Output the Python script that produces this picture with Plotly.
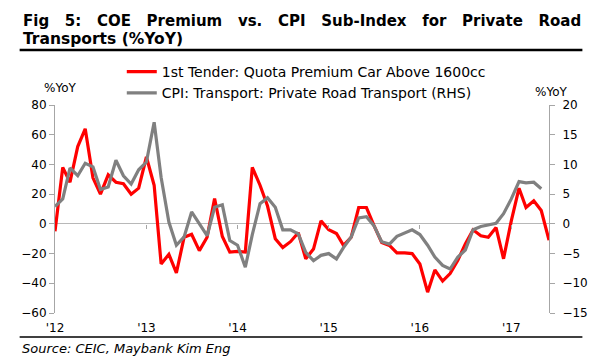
import pandas as pd
import plotly.graph_objects as go

# ---- data (monthly, Jan 2012 onwards) ----
coe_premium = [-5, 38, 28, 52, 64, 31, 20, 33, 28, 27, 20, 24,
               45, 26, -27, -20.5, -33, -9, -7, -18, -9, 17, -8.5, -19,
               -18.5, -19, 38, 26, 12, -10, -16, -12, -6, -23.5, -17, 2,
               -4, -6.5, -14.5, -9, 11, 11, -1, -12.5, -14.5, -19.5, -19.5, -20,
               -27, -46, -31, -38.5, -33.5, -24.5, -13.5, -4, -8, -9, -2.5, -23.5,
               2, 24, 11, 15.5, 9, -11]
cpi_transport = [2.9, 4.2, 9.4, 8.1, 10.2, 9.6, 5.8, 6.2, 10.7, 8.1, 6.7, 9.1,
                 10.4, 17.1, 7.8, 0.3, -3.6, -2.2, 2.0, 0.0, -2.0, 2.8, 3.2, -2.8,
                 -3.6, -7.3, -1.8, 3.4, 4.4, 2.8, -1.0, -1.0, -1.7, -4.8, -6.2, -5.3,
                 -5.0, -5.9, -4.0, -2.2, 1.0, 1.2, -0.3, -3.0, -3.4, -2.1, -1.6, -1.0,
                 -1.8, -3.6, -5.6, -7.0, -7.6, -5.6, -4.4, -1.0, -0.45, -0.2, 0.1, 1.7,
                 4.2, 7.1, 6.9, 7.0, 5.9]
dates_coe = pd.date_range("2012-01-01", periods=len(coe_premium), freq="MS")
dates_cpi = pd.date_range("2012-01-01", periods=len(cpi_transport), freq="MS")
year_ticks = ["2012-01-01", "2013-01-01", "2014-01-01", "2015-01-01", "2016-01-01", "2017-01-01"]
year_labels = ["'12", "'13", "'14", "'15", "'16", "'17"]
left_range = [-60, 80]
right_range = [-15, 20]
x_range = ["2012-01-01", "2017-06-01"]

W, H = 600, 360
L, R, T, B = 55, 42, 105, 47
PW, PH = W - L - R, H - T - B


def px(xp):
    return (xp - L) / PW


def py(yp):
    return (H - B - yp) / PH


FONT = "DejaVu Sans"
AXC = "#a6a6a6"

fig = go.Figure()
fig.add_trace(go.Scatter(x=dates_coe, y=coe_premium, mode="lines",
                         name="1st Tender: Quota Premium Car Above 1600cc",
                         line=dict(color="#ff0000", width=3.2)))
fig.add_trace(go.Scatter(x=dates_cpi, y=cpi_transport, mode="lines", yaxis="y2",
                         name="CPI: Transport: Private Road Transport (RHS)",
                         line=dict(color="#808080", width=3.2)))
# carrier for tick marks on the zero line
fig.add_trace(go.Scatter(x=[dates_coe[0]], y=[None], xaxis="x2", showlegend=False,
                         hoverinfo="skip", mode="lines"))

zero_pos = (0 - left_range[0]) / (left_range[1] - left_range[0])

fig.update_layout(
    width=W, height=H,
    margin=dict(l=L, r=R, t=T, b=B),
    paper_bgcolor="white", plot_bgcolor="white",
    font=dict(family=FONT, size=12, color="black"),
    showlegend=True,
    legend=dict(x=px(123), y=py(56), xanchor="left", yanchor="top",
                font=dict(family=FONT, size=14, color="black"),
                bgcolor="rgba(0,0,0,0)", itemwidth=30, tracegroupgap=0),
    xaxis=dict(type="date", range=x_range, tickvals=year_ticks, ticktext=year_labels,
               showgrid=False, zeroline=False, showline=False,
               ticks="outside", ticklen=4, tickcolor="rgba(0,0,0,0)",
               tickfont=dict(size=12)),
    xaxis2=dict(type="date", range=x_range, overlaying="x", anchor="free",
                position=zero_pos, side="bottom",
                tickvals=year_ticks[1:], showticklabels=False,
                ticks="outside", ticklen=4, tickcolor=AXC, tickwidth=1,
                showgrid=False, zeroline=False, showline=False),
    yaxis=dict(range=left_range, dtick=20, tick0=0, showgrid=False,
               showline=True, linecolor=AXC, linewidth=1,
               ticks="outside", ticklen=5, tickcolor=AXC,
               zeroline=True, zerolinecolor="#b8b8b8", zerolinewidth=1,
               tickfont=dict(size=12)),
    yaxis2=dict(range=right_range, dtick=5, tick0=0, overlaying="y", side="right",
                showgrid=False, showline=True, linecolor=AXC, linewidth=1,
                ticks="outside", ticklen=5, tickcolor=AXC, zeroline=False,
                ticklabelstandoff=5, tickfont=dict(size=12)),
)

title1 = "&nbsp;&nbsp;&nbsp;".join(
    ["Fig", "5:", "COE", "Premium", "vs.", "CPI", "Sub-Index", "for", "Private", "Road"])
annos = [
    dict(text="<b>" + title1 + "</b>", x=px(20), y=py(21), xanchor="left", yanchor="middle",
         font=dict(family=FONT, size=15.0, color="black")),
    dict(text="<b>Transports (%YoY)</b>", x=px(20), y=py(39), xanchor="left", yanchor="middle",
         font=dict(family=FONT, size=15.5, color="black")),
    dict(text="%YoY", x=px(60), y=py(88), xanchor="center", yanchor="middle",
         font=dict(family=FONT, size=12, color="black")),
    dict(text="%YoY", x=px(560), y=py(92), xanchor="center", yanchor="middle",
         font=dict(family=FONT, size=12, color="black")),
    dict(text="<i>Source: CEIC, Maybank Kim Eng</i>", x=px(19), y=py(348), xanchor="left",
         yanchor="middle", font=dict(family=FONT, size=13, color="black")),
]
for a in annos:
    a.update(xref="paper", yref="paper", showarrow=False)
fig.update_layout(annotations=annos)

fig.update_layout(shapes=[
    dict(type="line", xref="paper", yref="paper", x0=px(19), x1=px(592), y0=py(50), y1=py(50),
         line=dict(color="black", width=2.5)),
    dict(type="line", xref="paper", yref="paper", x0=px(19), x1=px(592), y0=py(337), y1=py(337),
         line=dict(color="black", width=1.5)),
])

fig.write_html("out.html", config={"displayModeBar": False},
               post_script="document.body.style.margin='0px';")
